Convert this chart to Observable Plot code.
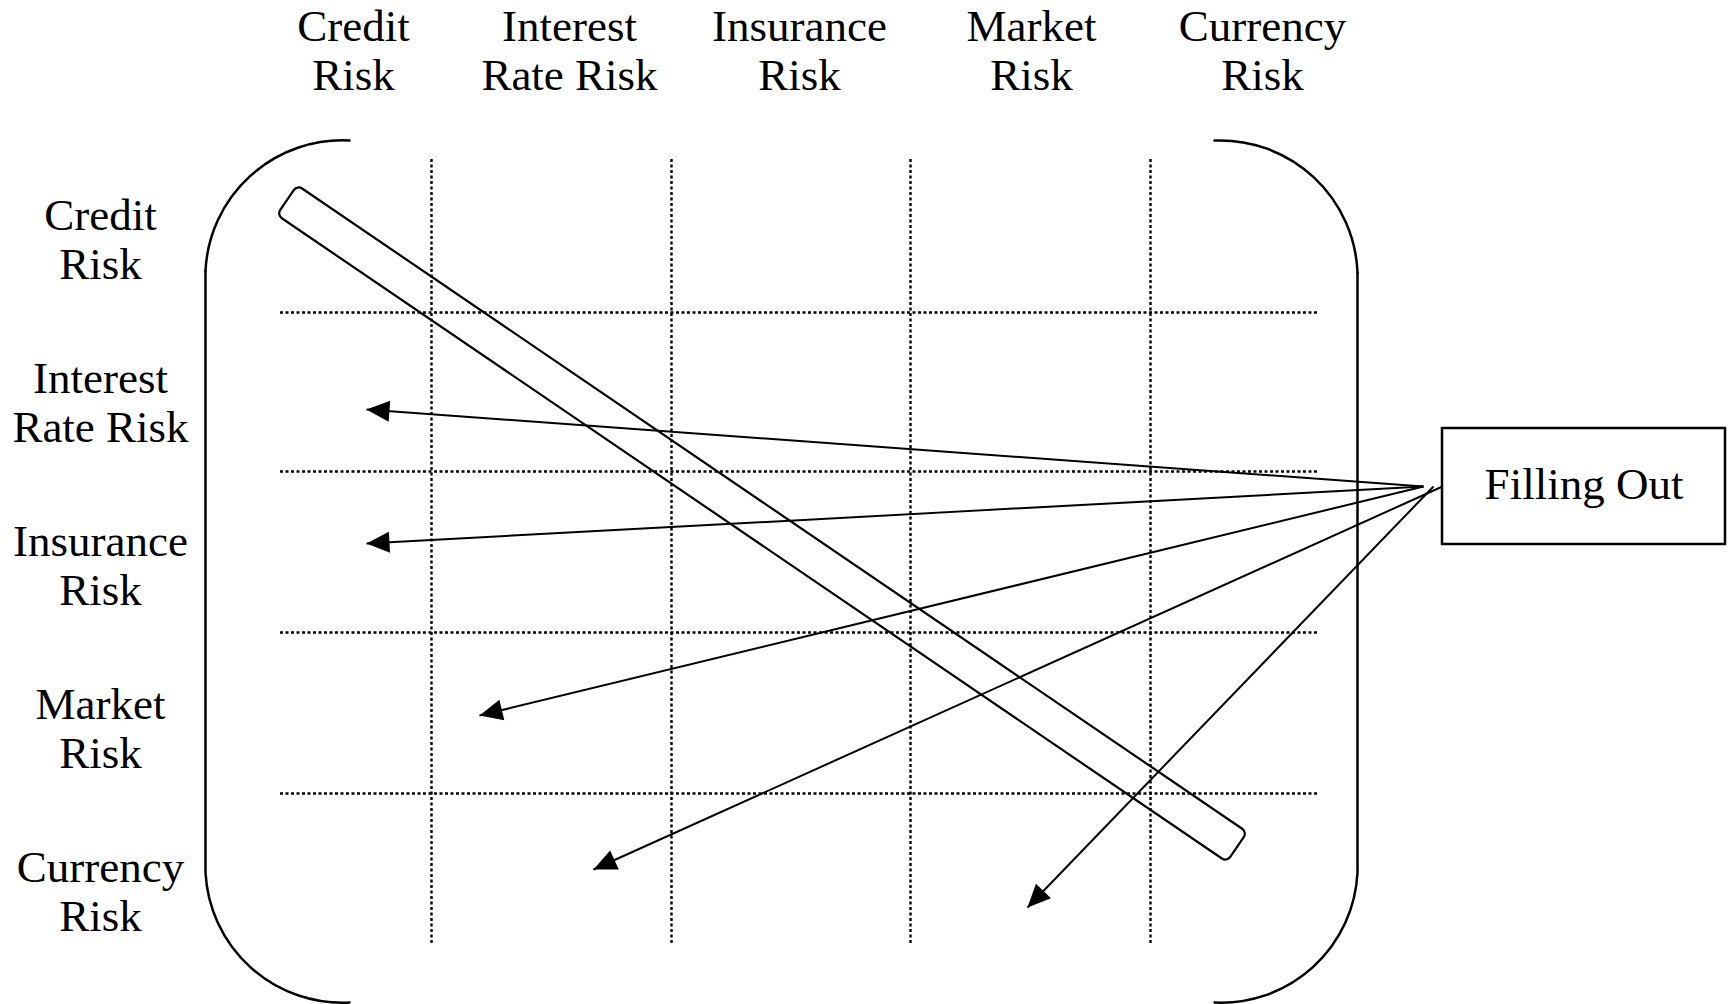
<!DOCTYPE html>
<html>
<head>
<meta charset="utf-8">
<script src="https://cdn.jsdelivr.net/npm/d3@7"></script>
<script src="https://cdn.jsdelivr.net/npm/@observablehq/plot@0.6"></script>
<style>
  html, body { margin: 0; padding: 0; background: #fff; overflow: hidden; }
  #chart svg { display: block; }
</style>
</head>
<body>
<div id="chart"></div>
<script>
// ---- Diagram data (diagram units = reference pixels) ----
const riskNames = ["Credit\nRisk", "Interest\nRate Risk", "Insurance\nRisk", "Market\nRisk", "Currency\nRisk"];
const columnLabelX = [353, 569, 799, 1031, 1262];
const columnLabelY = 49;
const rowLabelX = 100;
const rowLabelY = [238, 401, 564, 727, 890];
const verticalGridX = [431, 671, 910, 1150];
const verticalGridSpan = [159, 944];
const horizontalGridY = [312, 471, 632, 793];
const horizontalGridSpan = [280, 1317];
// bracket geometry: straight sides and the four corner arcs
const bracketSides = [{x: 205, y1: 270, y2: 872}, {x: 1357, y1: 272, y2: 872}];
const bracketArcs = [
  {x1: 349, y1: 140, x2: 205, y2: 270},
  {x1: 205, y1: 872, x2: 349, y2: 1002},
  {x1: 1214, y1: 1002, x2: 1357, y2: 872},
  {x1: 1357, y1: 272, x2: 1214, y2: 140}
];
// the diagonal band (centre of each short end, and its width)
const bandStart = [287, 200];
const bandEnd = [1237, 847];
const bandWidth = 36;
// "Filling Out" box
const boxLabel = "Filling Out";
const box = {x1: 1442, x2: 1725, y1: 428, y2: 544};
// arrows from the box to the cells
const arrowStartX = [1423, 1423, 1423, 1442, 1433];
const arrowStartY = [486, 486, 486, 486, 486];
const arrowTipX = [366, 366, 479, 593, 1027];
const arrowTipY = [409, 543, 715, 869, 907];

// ---- tables built from the arrays ----
const columnLabels = riskNames.map((t, i) => ({t, x: columnLabelX[i], y: columnLabelY}));
const rowLabels = riskNames.map((t, i) => ({t, x: rowLabelX, y: rowLabelY[i]}));
const vGrid = verticalGridX.map(x => ({x, y1: verticalGridSpan[0], y2: verticalGridSpan[1]}));
const hGrid = horizontalGridY.map(y => ({y, x1: horizontalGridSpan[0], x2: horizontalGridSpan[1]}));
const arrows = arrowTipX.map((_, i) => {
  const dx = arrowTipX[i] - arrowStartX[i], dy = arrowTipY[i] - arrowStartY[i];
  return {x1: arrowStartX[i], y1: arrowStartY[i], x2: arrowTipX[i], y2: arrowTipY[i],
          angle: Math.atan2(dx, -dy) * 180 / Math.PI};
});

const font = "'Liberation Serif', 'Times New Roman', serif";

function bandMark(index, scales) {
  const sx = scales.x, sy = scales.y;
  const ax = sx(bandStart[0]), ay = sy(bandStart[1]);
  const bx = sx(bandEnd[0]), by = sy(bandEnd[1]);
  const L = Math.hypot(bx - ax, by - ay);
  const ang = Math.atan2(by - ay, bx - ax) * 180 / Math.PI;
  const g = document.createElementNS("http://www.w3.org/2000/svg", "g");
  const r = document.createElementNS("http://www.w3.org/2000/svg", "rect");
  r.setAttribute("x", -L / 2);
  r.setAttribute("y", -bandWidth / 2);
  r.setAttribute("width", L);
  r.setAttribute("height", bandWidth);
  r.setAttribute("rx", 6);
  r.setAttribute("fill", "none");
  r.setAttribute("stroke", "black");
  r.setAttribute("stroke-width", 2.2);
  r.setAttribute("transform", `translate(${(ax + bx) / 2},${(ay + by) / 2}) rotate(${ang})`);
  g.appendChild(r);
  return g;
}

const chart = Plot.plot({
  width: 1731,
  height: 1004,
  margin: 0,
  x: {domain: [0, 1731], range: [0, 1731], axis: null},
  y: {domain: [0, 1004], range: [0, 1004], axis: null},
  style: {background: "white", fontFamily: font},
  marks: [
    Plot.ruleX(vGrid, {x: "x", y1: "y1", y2: "y2", stroke: "black", strokeWidth: 2.4, strokeDasharray: "3,2.5"}),
    Plot.ruleY(hGrid, {y: "y", x1: "x1", x2: "x2", stroke: "black", strokeWidth: 2.4, strokeDasharray: "3,2.5"}),
    Plot.ruleX(bracketSides, {x: "x", y1: "y1", y2: "y2", stroke: "black", strokeWidth: 2.5}),
    Plot.arrow(bracketArcs, {x1: "x1", y1: "y1", x2: "x2", y2: "y2", bend: -45, headLength: 0, stroke: "black", strokeWidth: 2.5}),
    bandMark,
    Plot.link(arrows, {x1: "x1", y1: "y1", x2: "x2", y2: "y2", stroke: "black", strokeWidth: 2}),
    Plot.vector(arrows, {x: "x2", y: "y2", rotate: "angle", length: 23, r: 10.5, shape: "spike", anchor: "end", fill: "black", stroke: "none"}),
    Plot.rect([box], {x1: "x1", x2: "x2", y1: "y1", y2: "y2", fill: "none", stroke: "black", strokeWidth: 2.5}),
    Plot.text([boxLabel], {x: (box.x1 + box.x2) / 2, y: (box.y1 + box.y2) / 2 - 2, text: d => d, fontSize: 45, fill: "black", fontFamily: font}),
    Plot.text(columnLabels, {x: "x", y: "y", text: "t", fontSize: 45, lineHeight: 1.1, fill: "black", fontFamily: font}),
    Plot.text(rowLabels, {x: "x", y: "y", text: "t", fontSize: 45, lineHeight: 1.1, fill: "black", fontFamily: font})
  ]
});
document.getElementById("chart").appendChild(chart);
</script>
</body>
</html>
